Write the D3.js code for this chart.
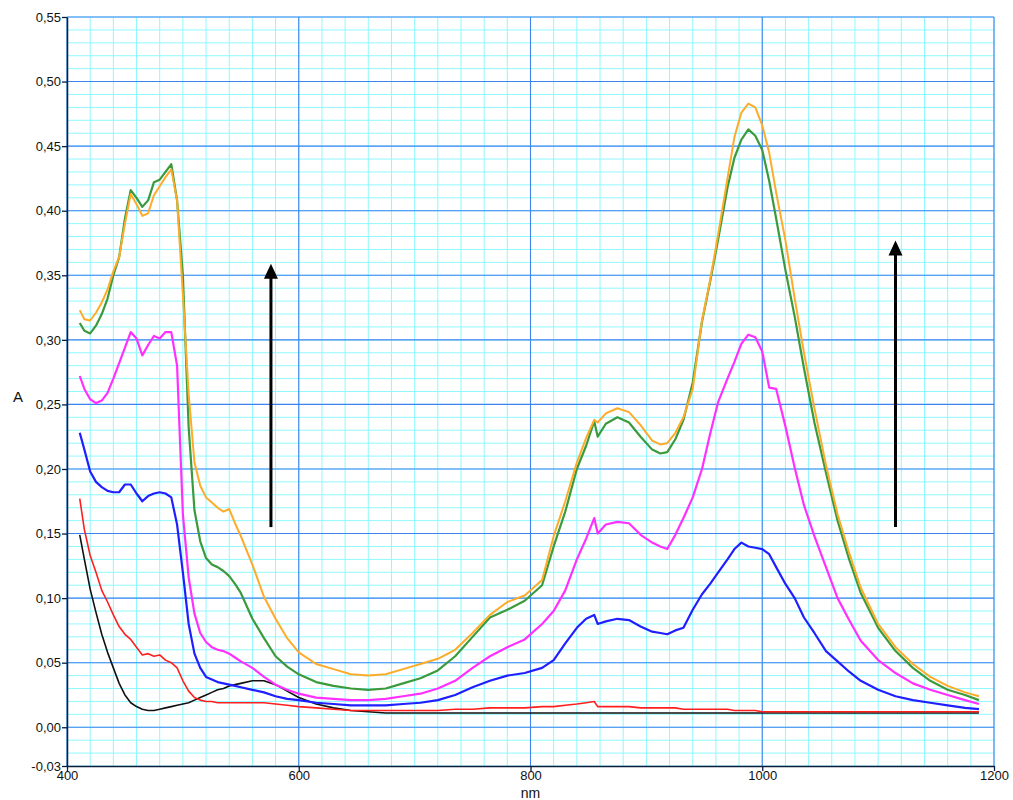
<!DOCTYPE html>
<html>
<head>
<meta charset="utf-8">
<script src="https://cdn.jsdelivr.net/npm/d3@7"></script>
<style>
  html, body { margin: 0; padding: 0; background: #ffffff; }
  svg { display: block; font-family: "Liberation Sans", Arial, sans-serif; }
</style>
</head>
<body>
<svg id="chart" width="1013" height="800"></svg>
<script>
// Absorption spectra (A vs wavelength in nm), six successive scans
const wavelengths = [
  411, 415, 420, 425, 430, 435, 440, 445, 450, 455,
  460, 465, 470, 475, 480, 485, 490, 495, 500, 505,
  510, 515, 520, 525, 530, 535, 540, 545, 550, 560,
  570, 580, 590, 600, 615, 630, 645, 660, 675, 690,
  705, 720, 735, 750, 765, 780, 795, 810, 820, 830,
  840, 848, 855, 858, 865, 875, 885, 895, 905, 912,
  918, 925, 932, 940, 948, 955, 962, 970, 976, 982,
  988, 994, 1000, 1006, 1012, 1020, 1028, 1036, 1045, 1055,
  1065, 1075, 1085, 1100, 1115, 1130, 1145, 1160, 1175, 1187
];

const scanBlack = [
  0.149, 0.130, 0.107, 0.089, 0.072, 0.058, 0.046, 0.034, 0.025, 0.019,
  0.016, 0.014, 0.013, 0.013, 0.014, 0.015, 0.016, 0.017, 0.018, 0.019,
  0.021, 0.023, 0.025, 0.027, 0.029, 0.030, 0.032, 0.033, 0.034, 0.036,
  0.036, 0.033, 0.028, 0.023, 0.018, 0.015, 0.013, 0.012, 0.011, 0.011,
  0.011, 0.011, 0.011, 0.011, 0.011, 0.011, 0.011, 0.011, 0.011, 0.011,
  0.011, 0.011, 0.011, 0.011, 0.011, 0.011, 0.011, 0.011, 0.011, 0.011,
  0.011, 0.011, 0.011, 0.011, 0.011, 0.011, 0.011, 0.011, 0.011, 0.011,
  0.011, 0.011, 0.011, 0.011, 0.011, 0.011, 0.011, 0.011, 0.011, 0.011,
  0.011, 0.011, 0.011, 0.011, 0.011, 0.011, 0.011, 0.011, 0.011, 0.011
];

const scanRed = [
  0.177, 0.153, 0.133, 0.120, 0.106, 0.097, 0.087, 0.078, 0.072, 0.068,
  0.062, 0.056, 0.057, 0.055, 0.056, 0.052, 0.050, 0.046, 0.036, 0.028,
  0.023, 0.021, 0.020, 0.020, 0.019, 0.019, 0.019, 0.019, 0.019, 0.019,
  0.019, 0.018, 0.017, 0.016, 0.015, 0.014, 0.013, 0.013, 0.013, 0.013,
  0.013, 0.013, 0.014, 0.014, 0.015, 0.015, 0.015, 0.016, 0.016, 0.017,
  0.018, 0.019, 0.020, 0.016, 0.016, 0.016, 0.016, 0.015, 0.015, 0.015,
  0.015, 0.015, 0.014, 0.014, 0.014, 0.014, 0.014, 0.014, 0.013, 0.013,
  0.013, 0.013, 0.012, 0.012, 0.012, 0.012, 0.012, 0.012, 0.012, 0.012,
  0.012, 0.012, 0.012, 0.012, 0.012, 0.012, 0.012, 0.012, 0.012, 0.012
];

const scanBlue = [
  0.228, 0.215, 0.198, 0.190, 0.186, 0.183, 0.182, 0.182, 0.188, 0.188,
  0.181, 0.175, 0.179, 0.181, 0.182, 0.181, 0.178, 0.157, 0.120, 0.080,
  0.057, 0.046, 0.039, 0.037, 0.035, 0.034, 0.033, 0.032, 0.031, 0.029,
  0.027, 0.024, 0.022, 0.021, 0.019, 0.018, 0.017, 0.017, 0.017, 0.018,
  0.019, 0.021, 0.025, 0.031, 0.036, 0.040, 0.042, 0.046, 0.052, 0.065,
  0.077, 0.084, 0.087, 0.080, 0.082, 0.084, 0.083, 0.078, 0.074, 0.073,
  0.072, 0.075, 0.077, 0.091, 0.103, 0.111, 0.120, 0.130, 0.138, 0.143,
  0.140, 0.139, 0.138, 0.134, 0.124, 0.111, 0.100, 0.085, 0.073, 0.059,
  0.051, 0.043, 0.036, 0.029, 0.024, 0.021, 0.019, 0.017, 0.015, 0.014
];

const scanMagenta = [
  0.272, 0.262, 0.254, 0.251, 0.253, 0.259, 0.270, 0.282, 0.294, 0.306,
  0.301, 0.288, 0.296, 0.303, 0.301, 0.306, 0.306, 0.280, 0.165, 0.116,
  0.088, 0.073, 0.066, 0.062, 0.060, 0.059, 0.057, 0.054, 0.051, 0.046,
  0.039, 0.033, 0.029, 0.026, 0.023, 0.022, 0.021, 0.021, 0.022, 0.024,
  0.026, 0.030, 0.036, 0.046, 0.055, 0.062, 0.068, 0.080, 0.090, 0.106,
  0.130, 0.146, 0.162, 0.150, 0.157, 0.159, 0.158, 0.149, 0.143, 0.140,
  0.138, 0.149, 0.162, 0.178, 0.200, 0.227, 0.252, 0.270, 0.283, 0.297,
  0.304, 0.302, 0.291, 0.263, 0.262, 0.233, 0.201, 0.172, 0.148, 0.124,
  0.100, 0.083, 0.067, 0.052, 0.042, 0.034, 0.029, 0.025, 0.021, 0.018
];

const scanGreen = [
  0.313, 0.307, 0.305, 0.311, 0.320, 0.332, 0.350, 0.364, 0.394, 0.416,
  0.410, 0.403, 0.408, 0.422, 0.424, 0.430, 0.436, 0.408, 0.350, 0.232,
  0.168, 0.144, 0.131, 0.126, 0.124, 0.121, 0.117, 0.111, 0.104, 0.084,
  0.069, 0.055, 0.047, 0.041, 0.035, 0.032, 0.030, 0.029, 0.030, 0.034,
  0.038, 0.044, 0.055, 0.070, 0.085, 0.091, 0.098, 0.110, 0.140, 0.167,
  0.200, 0.218, 0.237, 0.225, 0.235, 0.240, 0.236, 0.225, 0.215, 0.212,
  0.213, 0.223, 0.238, 0.267, 0.314, 0.345, 0.378, 0.418, 0.441, 0.455,
  0.463, 0.458, 0.447, 0.423, 0.394, 0.354, 0.318, 0.278, 0.236, 0.197,
  0.160, 0.130, 0.104, 0.077, 0.059, 0.046, 0.036, 0.029, 0.025, 0.021
];

const scanOrange = [
  0.323, 0.316, 0.315, 0.321, 0.329, 0.339, 0.353, 0.364, 0.390, 0.413,
  0.405, 0.396, 0.398, 0.412, 0.419, 0.426, 0.432, 0.408, 0.335, 0.258,
  0.205, 0.187, 0.178, 0.174, 0.170, 0.167, 0.169, 0.158, 0.148, 0.126,
  0.101, 0.084, 0.069, 0.058, 0.049, 0.045, 0.041, 0.040, 0.041, 0.045,
  0.049, 0.053, 0.060, 0.073, 0.087, 0.097, 0.102, 0.114, 0.148, 0.175,
  0.205, 0.224, 0.238, 0.236, 0.243, 0.247, 0.244, 0.234, 0.222, 0.219,
  0.220, 0.228, 0.240, 0.262, 0.315, 0.346, 0.382, 0.425, 0.457, 0.476,
  0.483, 0.480, 0.466, 0.445, 0.414, 0.377, 0.332, 0.290, 0.247, 0.203,
  0.165, 0.135, 0.108, 0.080, 0.062, 0.049, 0.039, 0.032, 0.027, 0.024
];

// drawing order: earliest scan first, last scan on top
const seriesNames  = ["black", "red", "blue", "magenta", "green", "orange"];
const seriesValues = [scanBlack, scanRed, scanBlue, scanMagenta, scanGreen, scanOrange];
const seriesColors = ["#111111", "#ff1f1f", "#1f1fff", "#ff30ff", "#3c9a3c", "#ffab2a"];
const seriesWidths = [1.6, 1.6, 2.2, 2.2, 2.2, 2.0];

const xTickValues = [400, 600, 800, 1000, 1200];
const yTickValues = [-0.03, 0.00, 0.05, 0.10, 0.15, 0.20, 0.25, 0.30, 0.35, 0.40, 0.45, 0.50, 0.55];

// growth arrows: [wavelength, A at tail, A at head]
const arrowNm    = [576, 1115];
const arrowFrom  = [0.155, 0.155];
const arrowTo    = [0.359, 0.377];

(function draw() {
  const svg = d3.select("#chart");
  const plotLeft = 67, plotRight = 994, plotTop = 17, plotBottom = 766;

  const x = d3.scaleLinear().domain([400, 1200]).range([plotLeft, plotRight]);
  const y = d3.scaleLinear().domain([-0.03, 0.55]).range([plotBottom, plotTop]);

  // minor grid (20 nm, 0.01 A)
  const grid = svg.append("g");
  const minorX = d3.range(400, 1201, 20);
  const minorY = d3.range(-3, 56).map(i => i / 100);
  grid.append("g").selectAll("line").data(minorX).join("line")
    .attr("x1", d => x(d)).attr("x2", d => x(d))
    .attr("y1", plotTop).attr("y2", plotBottom)
    .attr("stroke", "#8ff8ff").attr("stroke-width", 1);
  grid.append("g").selectAll("line").data(minorY).join("line")
    .attr("x1", plotLeft).attr("x2", plotRight)
    .attr("y1", d => y(d)).attr("y2", d => y(d))
    .attr("stroke", "#8ff8ff").attr("stroke-width", 1);

  // major grid (200 nm, 0.05 A)
  const majorX = d3.range(400, 1201, 200);
  const majorY = d3.range(0, 12).map(i => i * 5 / 100);
  grid.append("g").selectAll("line").data(majorX).join("line")
    .attr("x1", d => x(d)).attr("x2", d => x(d))
    .attr("y1", plotTop).attr("y2", plotBottom)
    .attr("stroke", "#3f83f0").attr("stroke-width", 1.1);
  grid.append("g").selectAll("line").data(majorY).join("line")
    .attr("x1", plotLeft).attr("x2", plotRight)
    .attr("y1", d => y(d)).attr("y2", d => y(d))
    .attr("stroke", "#3f83f0").attr("stroke-width", 1.1);

  // spectra
  const line = d3.line()
    .x((d, i) => x(wavelengths[i]))
    .y(d => y(d));

  svg.append("g").selectAll("path").data(seriesValues).join("path")
    .attr("d", d => line(d))
    .attr("fill", "none")
    .attr("stroke", (d, i) => seriesColors[i])
    .attr("stroke-width", (d, i) => seriesWidths[i])
    .attr("stroke-linejoin", "round");

  // axes
  const locale = d3.formatLocale({ decimal: ",", thousands: ".", grouping: [3], currency: ["", ""], minus: "-" });
  const fmtA = locale.format(".2f");

  const yAxis = svg.append("g")
    .attr("transform", `translate(${plotLeft},0)`)
    .call(d3.axisLeft(y).tickValues(yTickValues).tickFormat(fmtA).tickSize(5).tickSizeOuter(0).tickPadding(1));
  const xAxis = svg.append("g")
    .attr("transform", `translate(0,${plotBottom})`)
    .call(d3.axisBottom(x).tickValues(xTickValues).tickFormat(d3.format("d")).tickSize(5).tickSizeOuter(0).tickPadding(0));

  [yAxis, xAxis].forEach(a => {
    a.select(".domain").attr("stroke", "#0c1c3c").attr("stroke-width", 1.5);
    a.selectAll(".tick line").attr("stroke", "#0c1c3c").attr("stroke-width", 1.3);
    a.selectAll(".tick text").attr("fill", "#111").attr("font-size", 13)
      .attr("font-family", "'Liberation Sans', Arial, sans-serif");
  });

  svg.append("text")
    .attr("x", x(800)).attr("y", 798)
    .attr("text-anchor", "middle")
    .attr("font-size", 14).attr("fill", "#111")
    .text("nm");

  svg.append("text")
    .attr("x", 18).attr("y", 402)
    .attr("text-anchor", "middle")
    .attr("font-size", 15).attr("fill", "#111")
    .text("A");

  // arrows
  const arrows = svg.append("g");
  arrowNm.forEach((nm, i) => {
    const ax = x(nm), y0 = y(arrowFrom[i]), y1 = y(arrowTo[i]);
    arrows.append("line")
      .attr("x1", ax).attr("x2", ax)
      .attr("y1", y0).attr("y2", y1 + 12)
      .attr("stroke", "#000").attr("stroke-width", 3);
    arrows.append("path")
      .attr("d", `M${ax},${y1} L${ax - 7},${y1 + 15} L${ax + 7},${y1 + 15} Z`)
      .attr("fill", "#000");
  });
})();
</script>
</body>
</html>
